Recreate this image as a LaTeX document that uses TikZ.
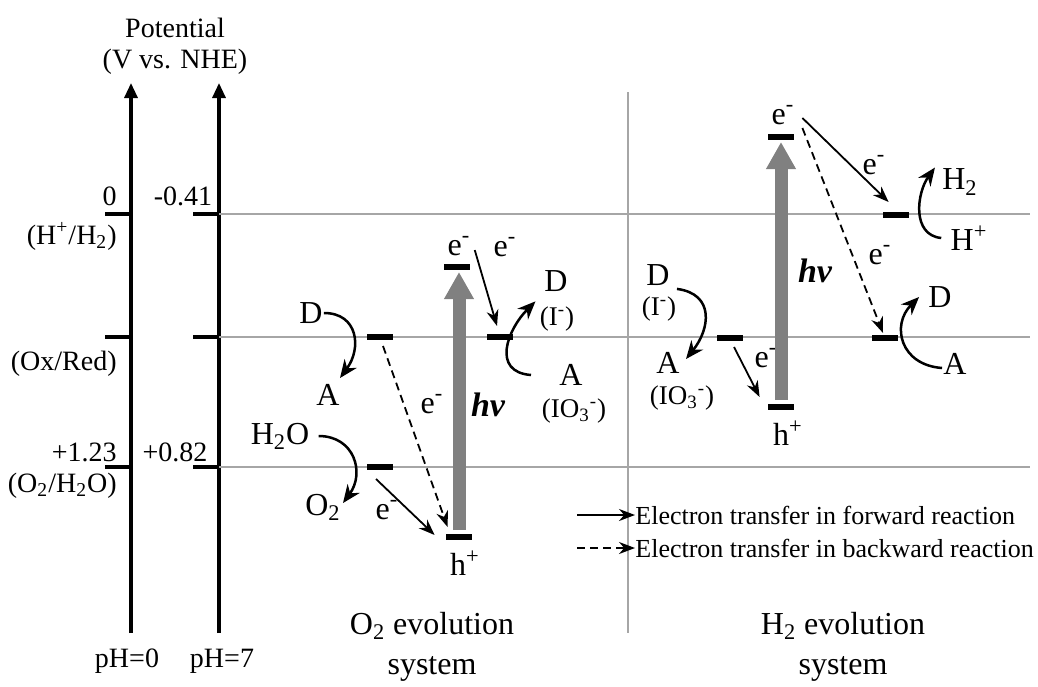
\documentclass[tikz,border=0pt]{standalone}
\usepackage{fontspec}
\setmainfont{Liberation Serif}
\usetikzlibrary{arrows.meta,positioning,calc}

\begin{document}
\begin{tikzpicture}[x=0.5pt,y=-0.5pt,>=Stealth,
 ax/.style={line width=1.6pt,-{Triangle[length=7.5pt,width=6.5pt]}},
 tk/.style={line width=1.6pt},
 gl/.style={gray!70,line width=0.7pt},
 lev/.style={fill=black,inner sep=0pt,minimum width=13pt,minimum height=2.6pt},
 lb/.style={font=\fontsize{16}{19}\selectfont,inner sep=0.5pt},
 pl/.style={font=\fontsize{13.5}{16}\selectfont,inner sep=0.5pt},
 vl/.style={font=\fontsize{14}{17}\selectfont,inner sep=1pt},
 tt/.style={font=\fontsize{16}{19}\selectfont,inner sep=0pt,anchor=base},
 hvl/.style={font=\fontsize{17}{20}\selectfont\bfseries\itshape,inner sep=1pt},
 el/.style={line width=0.9pt,-{Stealth[length=8pt,width=6pt]}},
 bk/.style={el,dash pattern=on 4pt off 2.5pt},
 cv/.style={line width=1.25pt,-{Stealth[length=9pt,width=7.5pt]}},
 pa/.style={black!50,line width=6.5pt,-{Triangle[length=13.5pt,width=14pt]}},
 lg/.style={font=\fontsize{13}{15}\selectfont,inner sep=0pt,anchor=west}]
\useasboundingbox (0,0) rectangle (1038,686);
% potential axes
\node[vl,anchor=base] (pot) at (175,37) {Potential};
\node[vl,anchor=base] (nhe) at (175,68) {(V vs. NHE)};
\draw[ax] (131,633) -- (131,83);
\draw[ax] (219,633) -- (219,83);
\foreach \y in {214,337,467} {
  \draw[tk] (105,\y) -- (131,\y);
  \draw[tk] (193,\y) -- (219,\y);
  \draw[gl] (219,\y) -- (1030,\y);
}
\draw[gl] (628,92) -- (628,633);
\node[vl,anchor=base east] (p0) at (119,205) {0};
\node[vl,anchor=base] (p041) at (183,205) {-0.41};
\node[vl,anchor=base east] (hh) at (119,244) {(H\textsuperscript{+}/H\textsubscript{2})};
\node[vl,anchor=base east] (oxred) at (119,370) {(Ox/Red)};
\node[vl,anchor=base east] (p123) at (119,461) {+1.23};
\node[vl,anchor=base] (p082) at (175,461) {+0.82};
\node[vl,anchor=base east] (ow) at (119,492) {(O\textsubscript{2}/H\textsubscript{2}O)};
\node[vl,anchor=base] (ph0) at (127,667) {pH=0};
\node[vl,anchor=base] (ph7) at (222,667) {pH=7};
% O2 evolution system
\node[lev] (oxL) at (380,337) {};
\node[lev] (owL) at (380,467) {};
\node[lev] (cbO) at (457,267) {};
\node[lev] (vbO) at (459,537) {};
\node[lev] (oxR) at (500,337) {};
\node[lb] (eCBo) at (459,246) {e\textsuperscript{-}};
\node[lb] (eTr) at (505,247) {e\textsuperscript{-}};
\node[lb] (Do) at (311,313) {D};
\node[lb] (Ao) at (328,395) {A};
\node[lb] (Hwo) at (280,436) {H\textsubscript{2}O};
\node[lb] (O2o) at (323,507) {O\textsubscript{2}};
\node[lb] (eSo) at (387,510) {e\textsuperscript{-}};
\node[lb] (eDo) at (432,404) {e\textsuperscript{-}};
\node[hvl] (hvO) at (488,405) {hv};
\node[lb] (hO) at (465,563) {h\textsuperscript{+}};
\node[lb] (Dor) at (556,281) {D};
\node[pl] (Ior) at (557,319) {(I\textsuperscript{-})};
\node[lb] (Aor) at (571,375) {A};
\node[pl] (IOor) at (574,411) {(IO\textsubscript{3}\textsuperscript{-})};
\draw[pa,shorten <=2pt,shorten >=1pt] (vbO.north) -- (vbO.north |- cbO.south);
\draw[el] ([shift={(3,4)}]eCBo.east) -- ([shift={(-3,-8)}]oxR.north);
\draw[bk] ([shift={(3,6)}]oxL.south) -- ([shift={(2,-7)}]vbO.north west);
\draw[el] ([shift={(-4,9)}]owL.south) -- ([shift={(-11,-2)}]vbO.west);
\draw[cv] (Do.east) .. controls +(34,0) and +(22,-30) .. ([shift={(12,-17)}]Ao.center);
\draw[cv] ([xshift=4pt]Hwo.east) .. controls +(36,0) and +(22,-30) .. ([shift={(20,-4)}]O2o.center);
\draw[cv] ([xshift=-20pt]Aor.center) .. controls +(-40,-3) and +(-28,28) .. ([shift={(-3,-4)}]Ior.north west);
\node[tt] (ttO1) at (432,634) {O\textsubscript{2} evolution};
\node[tt] (ttO2) at (432,674) {system};
% H2 evolution system
\node[lev] (cbH) at (781,137) {};
\node[lev] (vbH) at (781,407) {};
\node[lev] (oxH) at (730,338) {};
\node[lev] (hhH) at (896,215) {};
\node[lev] (oxH2) at (885,338) {};
\node[lb] (eCBh) at (783,115) {e\textsuperscript{-}};
\node[lb] (eSh) at (874,165) {e\textsuperscript{-}};
\node[lb] (eDh) at (880,255) {e\textsuperscript{-}};
\node[lb] (eLh) at (766,358) {e\textsuperscript{-}};
\node[hvl] (hvH) at (815,271) {hv};
\node[lb] (hH) at (788,433) {h\textsuperscript{+}};
\node[lb] (Dh) at (658,275) {D};
\node[pl] (Ih) at (659,309) {(I\textsuperscript{-})};
\node[lb] (Ah) at (668,363) {A};
\node[pl] (IOh) at (682,398) {(IO\textsubscript{3}\textsuperscript{-})};
\node[lb] (H2h) at (960,182) {H\textsubscript{2}};
\node[lb] (Hph) at (969,238) {H\textsuperscript{+}};
\node[lb] (Dh2) at (940,297) {D};
\node[lb] (Ah2) at (955,364) {A};
\draw[pa,shorten <=2pt,shorten >=1pt] (vbH.north) -- (cbH.south);
\draw[el] ([shift={(8,-19)}]cbH.east) -- ([shift={(6,-10)}]hhH.north west);
\draw[bk] ([shift={(8,-9)}]cbH.east) -- ([shift={(-2,-2)}]oxH2.north);
\draw[el] ([shift={(4,6)}]oxH.south) -- ([shift={(-8,-10)}]vbH.west);
\draw[cv] ([xshift=3pt,yshift=-1pt]Dh.south east) .. controls +(38,5) and +(24,-30) .. ([shift={(18,-4)}]Ah.center);
\draw[cv] ([xshift=-4pt]Hph.west) .. controls +(-30,-3) and +(-18,25) .. ([xshift=-3pt]H2h.north west);
\draw[cv] ([yshift=-2pt]Ah2.west) .. controls +(-42,-3) and +(-28,28) .. ([xshift=-4pt]Dh2.west);
\node[tt] (ttH1) at (843,634) {H\textsubscript{2} evolution};
\node[tt] (ttH2) at (843,674) {system};
% legend
\node[lg] (lgF) at (635,515) {Electron transfer in forward reaction};
\node[lg] (lgB) at (635,548) {Electron transfer in backward reaction};
\coordinate (lgFs) at (577,515);
\coordinate (lgBs) at (577,548);
\draw[el] (lgFs) -- (lgF.west);
\draw[bk] (lgBs) -- (lgB.west);
\end{tikzpicture}
\end{document}
